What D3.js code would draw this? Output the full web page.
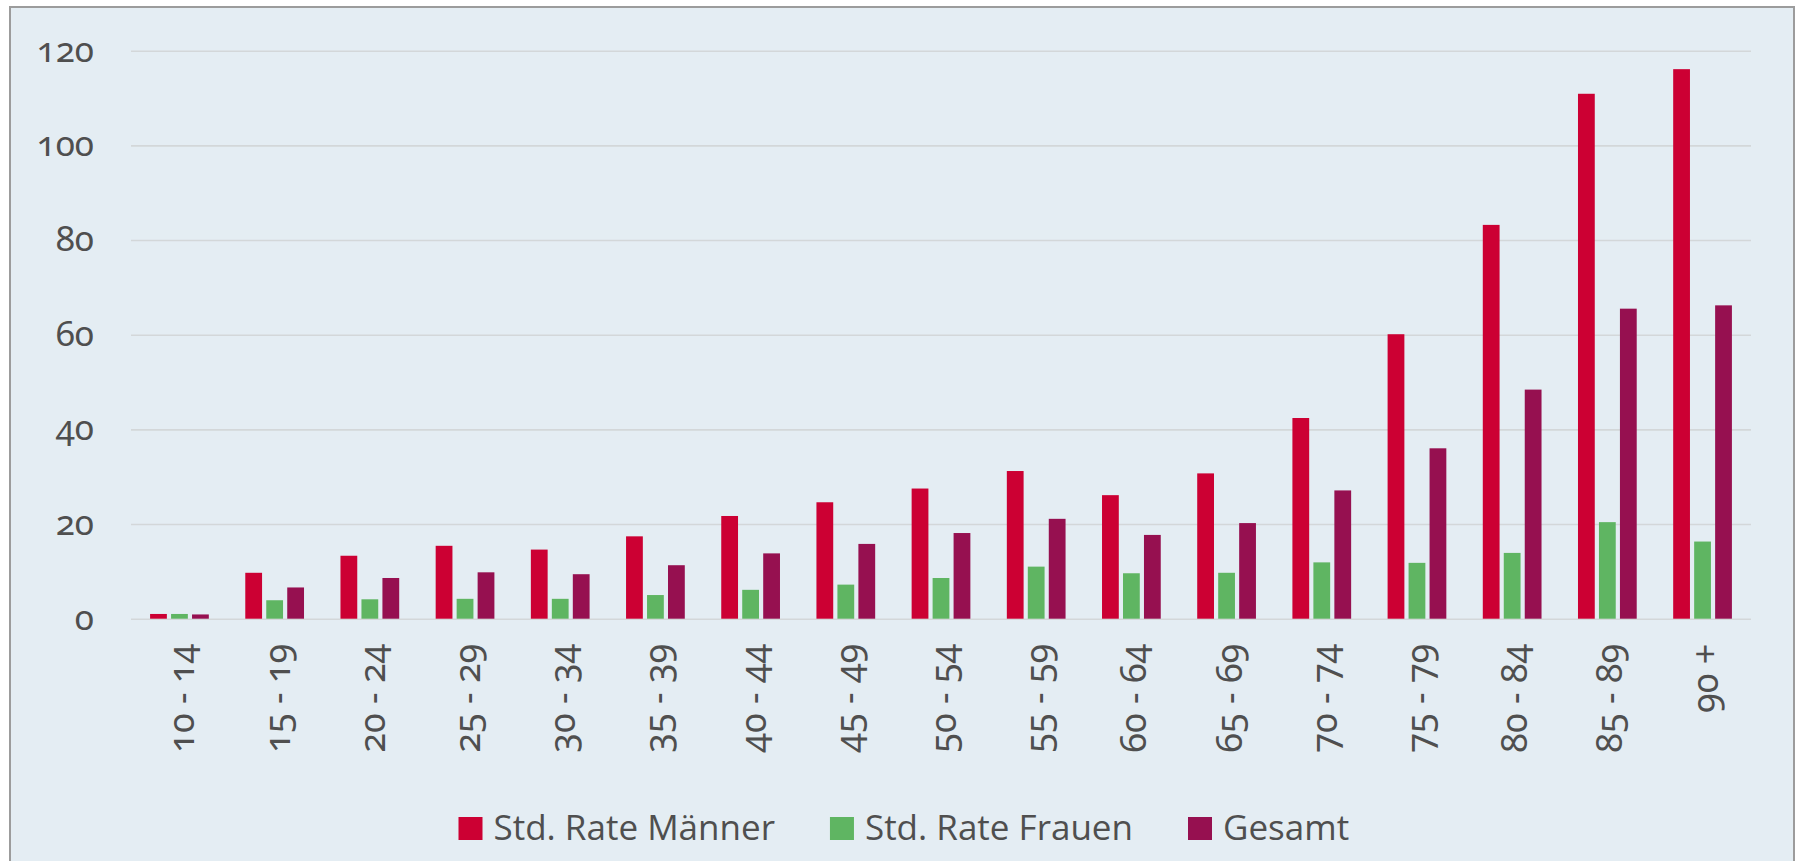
<!DOCTYPE html>
<html>
<head>
<meta charset="utf-8">
<script src="https://cdn.jsdelivr.net/npm/d3@7"></script>
<style>
  html, body { margin: 0; padding: 0; background: #ffffff; }
  svg text { font-family: "Open Sans", "Noto Sans", sans-serif; }
  svg text.num { font-family: "Noto Sans", "Open Sans", sans-serif; font-variant-numeric: oldstyle-nums; font-feature-settings: "onum" 1; }
</style>
</head>
<body>
<svg id="chart" width="1798" height="861"></svg>
<script>
const categories = ["10 - 14","15 - 19","20 - 24","25 - 29","30 - 34","35 - 39","40 - 44","45 - 49","50 - 54","55 - 59","60 - 64","65 - 69","70 - 74","75 - 79","80 - 84","85 - 89","90 +"];
const seriesNames = ["Std. Rate Männer", "Std. Rate Frauen", "Gesamt"];
const maenner = [1.0, 9.7, 13.3, 15.4, 14.6, 17.4, 21.7, 24.6, 27.5, 31.2, 26.1, 30.7, 42.4, 60.1, 83.2, 110.9, 116.1];
const frauen  = [1.0, 3.9, 4.1, 4.2, 4.2, 5.0, 6.1, 7.2, 8.6, 11.0, 9.6, 9.7, 11.9, 11.8, 13.9, 20.4, 16.3];
const gesamt  = [0.9, 6.6, 8.6, 9.8, 9.4, 11.3, 13.8, 15.8, 18.1, 21.1, 17.7, 20.2, 27.1, 36.0, 48.4, 65.5, 66.2];
const yTicks = [0, 20, 40, 60, 80, 100, 120];
const colors = ["#cc0033", "#5fb562", "#961050"];

const svg = d3.select("#chart");
const W = 1798, H = 861;
const textColor = "#4f4f4f";

// frame
svg.append("rect").attr("x", 10).attr("y", 7).attr("width", 1784).attr("height", H + 10)
  .attr("fill", "#e4edf3").attr("stroke", "#9c9c9c").attr("stroke-width", 2);

const x0 = d3.scaleBand().domain(categories).range([132, 1750]).paddingInner(0.383).paddingOuter(0.19);
const x1 = d3.scaleBand().domain(d3.range(3)).range([0, x0.bandwidth()]).paddingInner(0.2).paddingOuter(0);
const y = d3.scaleLinear().domain([0, 120]).range([618.7, 50.7]);

// gridlines + y tick labels
const yAxis = d3.axisLeft(y).tickValues(yTicks).tickSize(-(1751 - 131)).tickPadding(37);
const gy = svg.append("g").attr("transform", "translate(131,0)").call(yAxis);
gy.select(".domain").remove();
gy.selectAll(".tick line").attr("stroke", "#d3d7d9").attr("stroke-width", 1.6);
gy.selectAll(".tick text").attr("class", "num").attr("fill", textColor).attr("font-size", 35)
  .attr("dy", "0.3em").attr("text-anchor", "end");

// bars
const series = [maenner, frauen, gesamt];
const groups = svg.append("g").selectAll("g").data(categories).join("g")
  .attr("transform", d => `translate(${x0(d)},0)`);
groups.selectAll("rect").data((d, i) => series.map((s, k) => ({k, v: s[i]}))).join("rect")
  .attr("x", d => x1(d.k))
  .attr("width", x1.bandwidth())
  .attr("y", d => y(d.v))
  .attr("height", d => y(0) - y(d.v))
  .attr("fill", d => colors[d.k]);

// x labels
const xAxis = d3.axisBottom(x0).tickSize(0).tickPadding(0);
const gx = svg.append("g").attr("transform", `translate(0,${y(0)})`).call(xAxis);
gx.select(".domain").remove();
gx.selectAll(".tick text")
  .attr("class", "num")
  .attr("fill", textColor).attr("font-size", 36)
  .attr("text-anchor", "end")
  .attr("transform", "rotate(-90)")
  .attr("x", -25).attr("y", 15).attr("dy", 0);

// legend
const legend = svg.append("g");
let lx = 458.5;
seriesNames.forEach((name, i) => {
  legend.append("rect").attr("x", lx).attr("y", 817).attr("width", 24).attr("height", 23).attr("fill", colors[i]);
  const t = legend.append("text").attr("x", lx + 35).attr("y", 840)
    .attr("font-size", 35).attr("fill", textColor).text(name);
  const w = t.node().getComputedTextLength();
  lx = lx + 35 + w + 55;
});
</script>
</body>
</html>
